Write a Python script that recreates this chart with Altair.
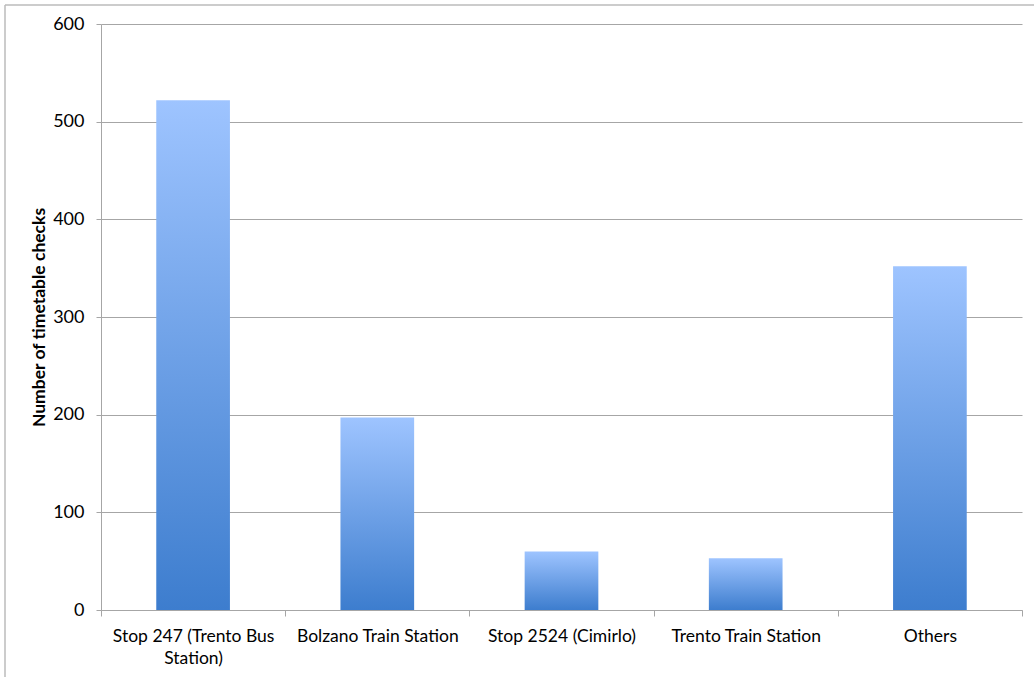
import altair as alt
import pandas as pd

categories = ["Stop 247 (Trento Bus Station)", "Bolzano Train Station",
              "Stop 2524 (Cimirlo)", "Trento Train Station", "Others"]
values = [522, 197, 60, 53, 352]
y_ticks = [0, 100, 200, 300, 400, 500, 600]

df = pd.DataFrame({"stop": categories, "checks": values})

FONT = "Lato"
GRID = "#a6a6a6"

gradient = alt.Gradient(
    gradient="linear",
    stops=[alt.GradientStop(color="#9ec4ff", offset=0),
           alt.GradientStop(color="#3d7dce", offset=1)],
    x1=0, x2=0, y1=0, y2=1,
)

label_expr = ("datum.value == 'Stop 247 (Trento Bus Station)' ? "
              "['Stop 247 (Trento Bus', 'Station)'] : datum.value")

bars = alt.Chart(df).mark_bar(color=gradient, width={"band": 0.4}).encode(
    x=alt.X("stop:N", sort=categories,
            scale=alt.Scale(paddingInner=0, paddingOuter=0),
            axis=alt.Axis(title=None, labelAngle=0, tickBand="extent",
                          labelExpr=label_expr, labelFont=FONT, labelFontSize=17.5,
                          labelColor="#000", labelPadding=11, tickSize=6,
                          tickColor=GRID, domainColor=GRID, labelLineHeight=22)),
    y=alt.Y("checks:Q", scale=alt.Scale(domain=[0, 600], nice=False),
            axis=alt.Axis(values=y_ticks, title="Number of timetable checks",
                          titleFont=FONT, titleFontSize=17.5, titleFontWeight="bold",
                          titleColor="#000", titlePadding=4,
                          labelFont=FONT, labelFontSize=18, labelColor="#000",
                          labelPadding=12, tickSize=5, tickColor=GRID,
                          domainColor=GRID, gridColor=GRID, grid=True)),
)

border = pd.DataFrame({"k": [0]})
top_line = alt.Chart(border).mark_rule(color="#bbbbbb", strokeWidth=1.5, clip=False).encode(
    x=alt.value(-96), x2=alt.value(940), y=alt.value(-19))
left_line = alt.Chart(border).mark_rule(color="#bbbbbb", strokeWidth=1.5, clip=False).encode(
    x=alt.value(-96), y=alt.value(-19), y2=alt.value(660))

chart = alt.layer(bars, top_line, left_line).properties(
    width=921, height=586,
    autosize=alt.AutoSizeParams(type="none"),
    padding={"left": 101, "top": 24, "right": 12, "bottom": 67},
    background="white",
).configure_view(stroke=None)

chart.save("out.html", embed_options={"renderer": "svg", "actions": False})
